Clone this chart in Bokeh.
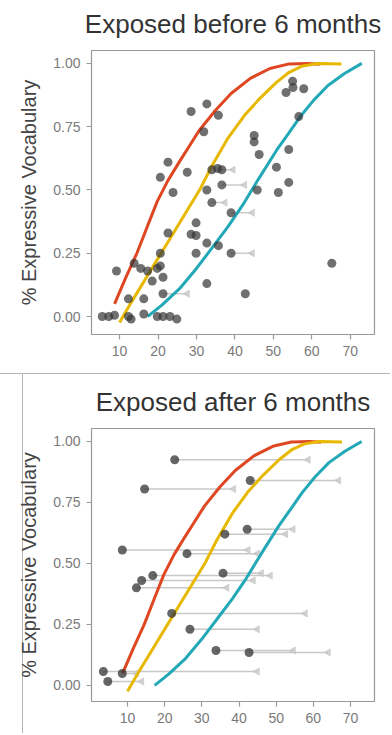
import numpy as np
from bokeh.plotting import figure
from bokeh.models import FixedTicker, NumeralTickFormatter, Range1d, InlineStyleSheet
from bokeh.layouts import column
from bokeh.embed import file_html
from bokeh.resources import INLINE

# ---------------- reference curves ----------------
red_x = [8.7, 11.5, 14.5, 17.2, 19.8, 22.6, 25.5, 28.0, 30.7, 34.9, 39.0, 44.0, 49.1, 54.1, 59.1, 62.1]
red_y = [0.05, 0.15, 0.25, 0.355, 0.455, 0.538, 0.61, 0.67, 0.735, 0.814, 0.881, 0.941, 0.98, 0.998, 1.0, 0.997]
yel_x = [10.0, 13.0, 16.0, 19.0, 22.0, 25.0, 28.0, 31.0, 34.0, 38.2, 42.5, 46.5, 50.8, 54.1, 57.6, 61.6, 67.7]
yel_y = [-0.024, 0.055, 0.13, 0.205, 0.28, 0.355, 0.43, 0.505, 0.595, 0.705, 0.795, 0.862, 0.925, 0.965, 0.99, 1.0, 0.998]
teal_x = [17.3, 21.0, 25.6, 30.0, 34.0, 38.2, 42.0, 46.0, 50.8, 54.0, 57.0, 60.5, 64.2, 68.5, 73.0]
teal_y = [0.0, 0.045, 0.11, 0.19, 0.27, 0.355, 0.44, 0.54, 0.656, 0.725, 0.79, 0.855, 0.913, 0.96, 1.0]

# ---------------- panel 1: exposed before 6 months ----------------
before_x = [28.6, 32.7, 35.7, 31.9, 45.0, 45.0, 46.3, 54.0, 53.3, 55.1, 57.9, 55.0, 56.6,
            22.6, 20.6, 27.6, 34.0, 35.5, 36.6, 36.6, 23.9, 32.7, 50.8, 54.0, 51.3, 45.8,
            34.0, 39.0, 29.9, 28.6, 29.9, 22.6, 32.7, 35.7, 29.9, 39.0, 20.6, 65.2, 32.7,
            42.7, 9.2, 13.8, 15.5, 17.3, 19.8, 20.6, 21.3, 18.5, 12.3, 16.3, 21.3,
            5.5, 7.2, 8.7, 12.3, 13.0, 16.3, 19.8, 21.3, 23.1, 24.9]
before_y = [0.81, 0.84, 0.795, 0.73, 0.715, 0.69, 0.64, 0.66, 0.885, 0.905, 0.90, 0.93, 0.79,
            0.61, 0.55, 0.57, 0.58, 0.585, 0.58, 0.52, 0.49, 0.50, 0.59, 0.53, 0.49, 0.50,
            0.45, 0.41, 0.37, 0.325, 0.32, 0.33, 0.29, 0.28, 0.25, 0.25, 0.25, 0.21, 0.13,
            0.09, 0.18, 0.21, 0.19, 0.18, 0.19, 0.20, 0.155, 0.14, 0.07, 0.07, 0.09,
            0.0, 0.0, 0.005, 0.0, -0.01, 0.01, 0.0, 0.0, 0.0, -0.01]
before_seg_x0 = [36.6, 34.0, 39.0, 39.0, 36.6, 21.3]
before_seg_y = [0.58, 0.45, 0.41, 0.25, 0.52, 0.09]
before_seg_x1 = [39.5, 37.4, 44.5, 44.5, 42.5, 27.6]

# ---------------- panel 2: exposed after 6 months ----------------
after_x0 = [22.7, 14.6, 43.0, 36.2, 42.2, 8.6, 26.0, 16.8, 13.8, 12.4, 35.7, 21.9, 26.8,
            33.8, 42.7, 3.5, 8.6, 4.7]
after_y = [0.925, 0.805, 0.84, 0.62, 0.64, 0.555, 0.54, 0.45, 0.43, 0.40, 0.46, 0.295, 0.23,
           0.143, 0.135, 0.057, 0.049, 0.016]
after_x1 = [58.6, 38.5, 66.8, 52.5, 54.5, 42.4, 45.0, 48.4, 43.8, 36.7, 46.0, 57.8, 44.9,
            54.6, 64.0, 44.9, 12.4, 13.8]

x_ticks = [10, 20, 30, 40, 50, 60, 70]
y_ticks = [0.0, 0.25, 0.5, 0.75, 1.0]

RED = "#DE4722"
YEL = "#E7B800"
TEAL = "#22A8B6"
FONT = "Liberation Sans"


def set_title_padding(t):
    for pad in (dict(left=0, right=0, top=0, bottom=7), (0, 0, 0, 7)):
        try:
            t.padding = pad
            return
        except Exception:
            continue


def make_panel(title, width, height, xr, yr, mbl, mbr, mbt, mbb):
    p = figure(width=width, height=height, x_range=Range1d(*xr), y_range=Range1d(*yr),
               output_backend="svg", toolbar_location=None,
               min_border_left=mbl, min_border_right=mbr,
               min_border_top=mbt, min_border_bottom=mbb)
    p.title.text = title
    p.title.align = "center"
    p.title.text_font = FONT
    p.title.text_font_size = "26px"
    p.title.text_font_style = "normal"
    p.title.text_color = "#333333"
    set_title_padding(p.title)
    p.grid.visible = False
    p.outline_line_color = "#999999"
    p.outline_line_width = 1.2
    p.xaxis.ticker = FixedTicker(ticks=x_ticks)
    p.yaxis.ticker = FixedTicker(ticks=y_ticks)
    p.yaxis.formatter = NumeralTickFormatter(format="0.00")
    p.axis.axis_line_color = None
    p.axis.major_tick_line_color = "#999999"
    p.axis.major_tick_line_width = 1.2
    p.axis.major_tick_out = 5
    p.axis.major_tick_in = 0
    p.axis.minor_tick_line_color = None
    p.axis.major_label_text_font = FONT
    p.axis.major_label_text_font_size = "14px"
    p.axis.major_label_text_color = "#7a7a7a"
    p.xaxis.major_label_standoff = 6
    p.yaxis.major_label_standoff = 6
    p.yaxis.axis_label = "% Expressive Vocabulary"
    p.yaxis.axis_label_text_font = FONT
    p.yaxis.axis_label_text_font_size = "20px"
    p.yaxis.axis_label_text_font_style = "normal"
    p.yaxis.axis_label_text_color = "#444444"
    p.yaxis.axis_label_standoff = 10
    return p


def add_curves(p):
    p.line(red_x, red_y, line_color=RED, line_width=3)
    p.line(yel_x, yel_y, line_color=YEL, line_width=3)
    p.line(teal_x, teal_y, line_color=TEAL, line_width=3)


# top panel
p1 = make_panel("Exposed before 6 months", 390, 373, (2.7, 76.3), (-0.071, 1.051), 89, 9, 50, 39)
p1.segment(before_seg_x0, before_seg_y, before_seg_x1, before_seg_y,
           line_color="#cccccc", line_width=1.5)
p1.scatter(before_seg_x1, before_seg_y, marker="triangle", angle=np.pi / 2, size=7,
           fill_color="#c8c8c8", line_color="#c8c8c8", alpha=0.8)
add_curves(p1)
p1.scatter(before_x, before_y, size=9, fill_color="#333333", line_color=None, fill_alpha=0.7)

# bottom panel
p2 = make_panel("Exposed after 6 months", 390, 360, (0.31, 76.46), (-0.066, 1.053), 91, 16, 55, 32)
p2.segment(after_x0, after_y, after_x1, after_y, line_color="#c8c8c8", line_width=1.5)
p2.scatter(after_x1, after_y, marker="triangle", angle=np.pi / 2, size=7,
           fill_color="#c8c8c8", line_color="#c8c8c8", alpha=0.8)
add_curves(p2)
p2.scatter(after_x0, after_y, size=9, fill_color="#333333", line_color=None, fill_alpha=0.75)
p2.border_fill_color = None
p2.stylesheets = [InlineStyleSheet(css=(
    ":host { background: linear-gradient(#b5b5b5, #b5b5b5) 0 0 / 100% 1px no-repeat, "
    "linear-gradient(#b5b5b5, #b5b5b5) 22px 0 / 1px 100% no-repeat, #ffffff; }"))]

layout = column(p1, p2, spacing=0)
open("out.html", "w").write(file_html(layout, INLINE))
